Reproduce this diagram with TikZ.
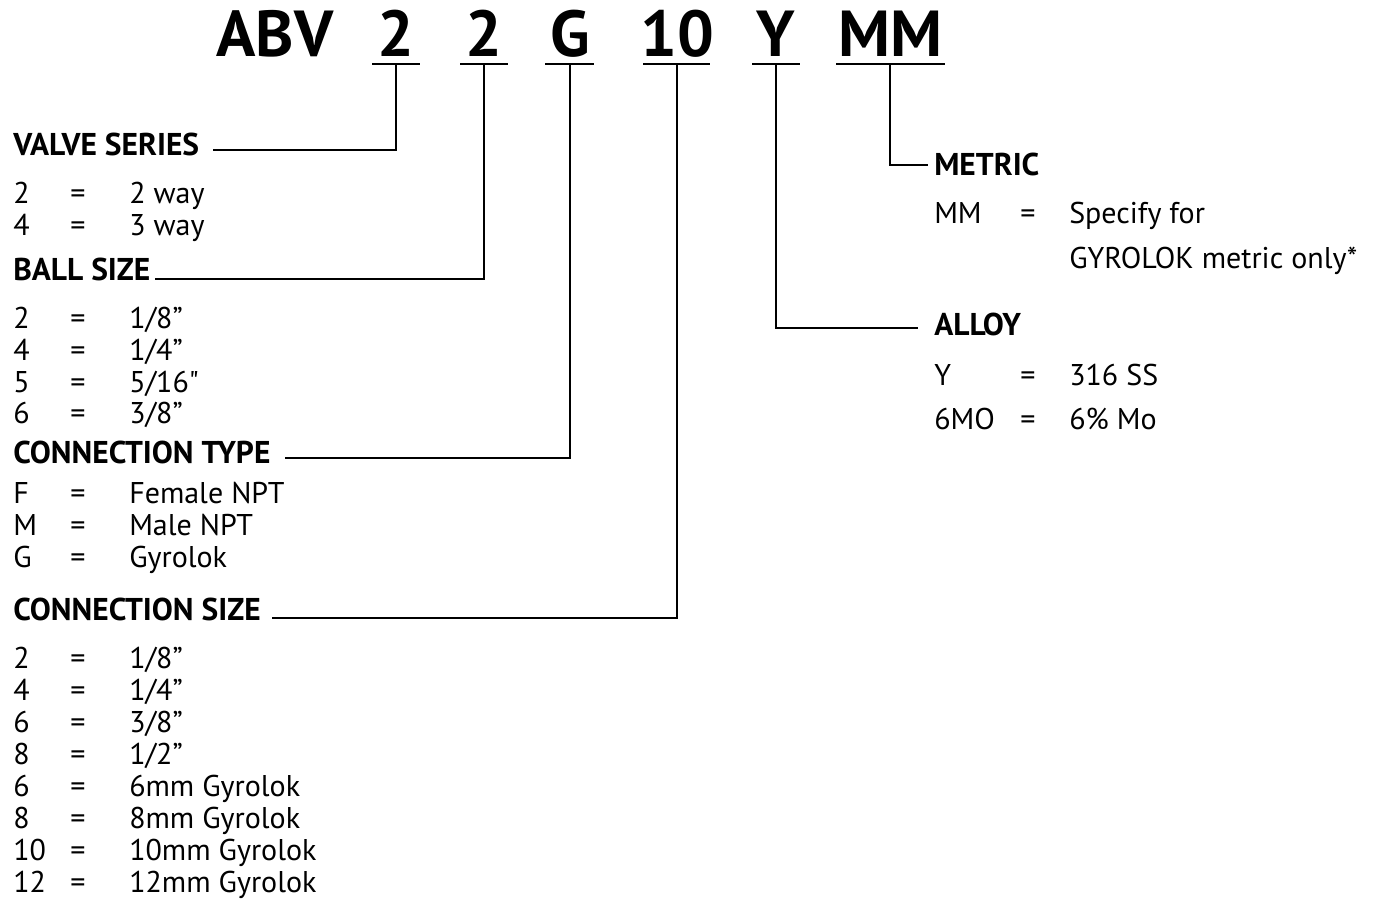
\documentclass[tikz,border=0pt]{standalone}
\usepackage{fontspec}
\setmainfont{PT Sans}
\newfontfamily\qfont{PT Sans}
\begin{document}
\begin{tikzpicture}[x=1pt,y=-1pt, line width=2.5pt,
  code/.style={font=\fontsize{65}{65}\selectfont\bfseries, anchor=base, inner sep=0},
  head/.style={font=\fontsize{31.5}{31.5}\selectfont\bfseries, anchor=base west, inner sep=0},
  item/.style={font=\fontsize{30}{30}\selectfont, anchor=base west, inner sep=0},
  eq/.style={font=\fontsize{30}{30}\selectfont, anchor=base, inner sep=0}]
\useasboundingbox (0,0) rectangle (1380,898);

% top code
\node[code] (abv) at (275,56) {ABV};
\node[code] (k1) at (396,56) {2};
\node[code] (k2) at (484,56) {2};
\node[code] (k3) at (570,56) {G};
\node[code] (k4) at (677,56) {10};
\node[code] (k5) at (776,56) {Y};
\node[code] (k6) at (890,56) {MM};
\draw (372,64) -- (420,64);
\draw (460,64) -- (508,64);
\draw (545,64) -- (594,64);
\draw (643,64) -- (710,64);
\draw (752,64) -- (800,64);
\draw (836,64) -- (945,64);
\coordinate (u1) at (396,64);
\coordinate (u2) at (484,64);
\coordinate (u3) at (570,64);
\coordinate (u4) at (677,64);
\coordinate (u5) at (776,64);
\coordinate (u6) at (890,64);

% headings
\node[head] (h1) at (12,155.5) {VALVE SERIES};
\node[head] (h2) at (12,280) {BALL SIZE};
\node[head] (h3) at (12,463.5) {CONNECTION TYPE};
\node[head] (h4) at (12,620.5) {CONNECTION SIZE};
\node[head] (h5) at (933,175.5) {METRIC};
\node[head] (h6) at (933,335.5) {ALLOY};

\coordinate (c1) at (213,150);
\coordinate (c2) at (155,279);
\coordinate (c3) at (285,458);
\coordinate (c4) at (272,618);
\coordinate (c5) at (928,165);
\coordinate (c6) at (918,328);
\draw (u1) |- (c1);
\draw (u2) |- (c2);
\draw (u3) |- (c3);
\draw (u4) |- (c4);
\draw (u6) |- (c5);
\draw (u5) |- (c6);

% left lists
\foreach \y/\a/\b [count=\i] in {203/2/{2 way}, 235/4/{3 way},
  328/2/{1/8”}, 360/4/{1/4”}, 392/5/{5/16{\qfont"}}, 423/6/{3/8”},
  503/F/{Female NPT}, 535/M/{Male NPT}, 567/G/{Gyrolok},
  668/2/{1/8”}, 700/4/{1/4”}, 732/6/{3/8”}, 764/8/{1/2”},
  796/6/{6mm Gyrolok}, 828/8/{8mm Gyrolok}, 860/10/{10mm Gyrolok}, 892/12/{12mm Gyrolok}}{
  \node[item] (a\i) at (12,\y) {\a};
  \node[eq] (e\i) at (78,\y) {=};
  \node[item] (b\i) at (128,\y) {\b};
}

% right lists
\node[item] (ra1) at (933,223.5) {MM};
\node[eq] (re1) at (1028,223.5) {=};
\node[item] (rb1) at (1068,223.5) {Specify for};
\node[item] (rb2) at (1068,268.5) {GYROLOK metric only*};
\node[item] (ra3) at (933,385.5) {Y};
\node[eq] (re3) at (1028,385.5) {=};
\node[item] (rb3) at (1068,385.5) {316 SS};
\node[item] (ra4) at (933,429.5) {6MO};
\node[eq] (re4) at (1028,429.5) {=};
\node[item] (rb4) at (1068,429.5) {6\% Mo};
\end{tikzpicture}
\end{document}
